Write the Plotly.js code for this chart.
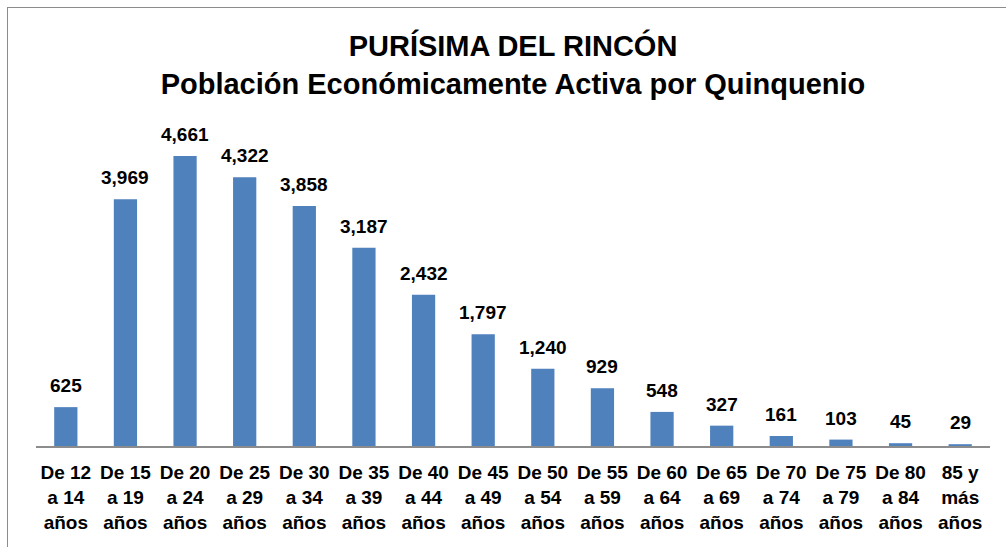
<!DOCTYPE html>
<html>
<head>
<meta charset="utf-8">
<script src="https://cdn.plot.ly/plotly-3.0.1.min.js"></script>
<style>
html,body{margin:0;padding:0;background:#fff;}
#chart{width:1006px;height:547px;}
#frame{position:absolute;left:7px;top:7px;width:1010px;height:560px;border:1.5px solid #8c8c8c;box-sizing:border-box;pointer-events:none;}
</style>
</head>
<body>
<div id="chart"></div>
<div id="frame"></div>
<script>
var categories = ["De 12 a 14 años","De 15 a 19 años","De 20 a 24 años","De 25 a 29 años","De 30 a 34 años","De 35 a 39 años","De 40 a 44 años","De 45 a 49 años","De 50 a 54 años","De 55 a 59 años","De 60 a 64 años","De 65 a 69 años","De 70 a 74 años","De 75 a 79 años","De 80 a 84 años","85 y más años"];
var tickLabels = ["De 12<br>a 14<br>años","De 15<br>a 19<br>años","De 20<br>a 24<br>años","De 25<br>a 29<br>años","De 30<br>a 34<br>años","De 35<br>a 39<br>años","De 40<br>a 44<br>años","De 45<br>a 49<br>años","De 50<br>a 54<br>años","De 55<br>a 59<br>años","De 60<br>a 64<br>años","De 65<br>a 69<br>años","De 70<br>a 74<br>años","De 75<br>a 79<br>años","De 80<br>a 84<br>años","85 y<br>más<br>años"];
var values = [625,3969,4661,4322,3858,3187,2432,1797,1240,929,548,327,161,103,45,29];

var font = "Liberation Sans, Arial, sans-serif";
var annotations = values.map(function(v,i){
  return {x: categories[i], y: v, xref:'x', yref:'y', text: v.toLocaleString('en-US'),
    showarrow:false, yanchor:'bottom', yshift:9, font:{family:font,size:19,color:'#000',weight:'bold'}};
});

var data = [{
  type:'bar', x:categories, y:values,
  marker:{color:'#4F81BD'},
  hoverinfo:'x+y'
}];

var layout = {
  width:1006, height:547,
  margin:{l:36, r:16, t:135, b:101},
  paper_bgcolor:'#fff', plot_bgcolor:'#fff',
  bargap:0.61,
  showlegend:false,
  title:{text:'<b>PURÍSIMA DEL RINCÓN</b><br><b>Población Económicamente Activa por Quinquenio</b>',
    font:{family:font,size:29,color:'#000'}, x:0.5, xref:'paper', xanchor:'center', y:0.897, yanchor:'middle', yref:'container'},
  xaxis:{tickmode:'array', tickvals:categories, ticktext:tickLabels,
    tickfont:{family:font,size:19,color:'#000',weight:'bold'},
    ticklabelstandoff:9,
    showline:true, linecolor:'#8c8c8c', linewidth:1.5, ticks:'', showgrid:false, zeroline:false, fixedrange:true},
  yaxis:{range:[0,5000], visible:false, showgrid:false, zeroline:false, fixedrange:true},
  annotations:annotations
};

Plotly.newPlot('chart', data, layout, {displayModeBar:false, staticPlot:true});
</script>
</body>
</html>
